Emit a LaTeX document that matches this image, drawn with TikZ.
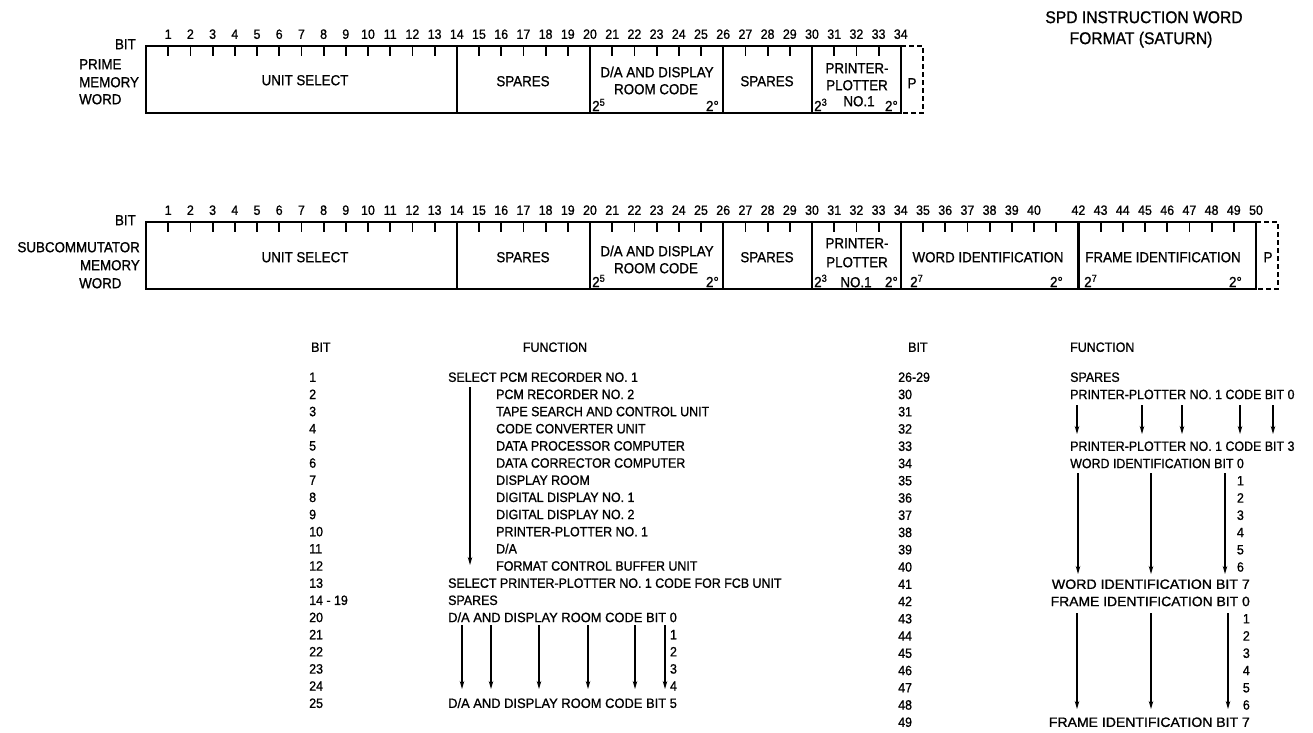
\documentclass[tikz,border=0pt]{standalone}
\usepackage{fontspec}
\setmainfont{Liberation Sans}[FakeStretch=0.92,FakeBold=1]
\usetikzlibrary{arrows.meta}
\begin{document}
\begin{tikzpicture}[x=1pt,y=-1pt,
  t/.style={inner sep=0pt, text height=9.7pt, text depth=0pt, font=\fontsize{13.5}{15}\selectfont},
  bt/.style={inner sep=0pt, text height=10.4pt, text depth=0pt, font=\fontsize{14.5}{16}\selectfont},
  tt/.style={inner sep=0pt, text height=12.2pt, text depth=0pt, font=\fontsize{17}{19}\selectfont},
  sx/.style={inner sep=0pt, font=\fontsize{14.5}{16}\selectfont},
  fieldbox/.style={line width=2.2pt},
  tick/.style={line width=1.8pt},
  pbox/.style={line width=2.2pt, dash pattern=on 5pt off 3pt},
  arr/.style={-{Stealth[length=8pt,width=4.5pt]}, line width=1.1pt},
]
\useasboundingbox (0,0) rectangle (1313,732);

% ---------------- title
\node[tt] (title1) at (1144,17) {SPD INSTRUCTION WORD};
\node[tt] (title2) at (1141,38) {FORMAT (SATURN)};

% ---------------- row 1 : prime memory word
\node[bt, anchor=east] (bitA) at (136,44) {BIT};
\node[bt, anchor=west] (primeA) at (79,64) {PRIME};
\node[bt, anchor=west] (memA) at (79,82) {MEMORY};
\node[bt, anchor=west] (wordA) at (79,99) {WORD};

\draw[fieldbox] (146,46) rectangle (901,113);
\foreach \k in {14,20,26,30}
  \draw[fieldbox] ({146+22.2*\k},46) -- ({146+22.2*\k},113);
\foreach \k in {1,...,13,15,16,17,18,19,21,22,23,24,25,27,28,29,31,32,33}
  \draw[tick] ({146+22.2*\k},46) -- ({146+22.2*\k},56);
\foreach \k in {1,...,34}
  \node[t] (pa\k) at ({146+22.2*\k},34) {\k};
\draw[pbox] (901,46) -- (923,46) -- (923,113) -- (901,113);

\node[bt] (usA) at (305,80) {UNIT SELECT};
\node[bt] (spA) at (523,81) {SPARES};
\node[bt] (daA1) at (657,72) {D/A AND DISPLAY};
\node[bt] (daA2) at (656,89) {ROOM CODE};
\node[sx, anchor=base west] (daA5) at (592,111) {2\textsuperscript{5}};
\node[sx, anchor=base east] (daA0) at (719,111) {2°};
\node[bt] (sp2A) at (767,81) {SPARES};
\node[bt] (ppA1) at (857,68) {PRINTER-};
\node[bt] (ppA2) at (857,85) {PLOTTER};
\node[bt] (ppA3) at (859,101) {NO.1};
\node[sx, anchor=base west] (ppA5) at (814,111) {2\textsuperscript{3}};
\node[sx, anchor=base east] (ppA0) at (898,111) {2°};
\node[bt] (pA) at (912,83) {P};

% ---------------- row 2 : subcommutator memory word
\node[bt, anchor=east] (bitB) at (136,220) {BIT};
\node[bt, anchor=east] (subB) at (140,247) {SUBCOMMUTATOR};
\node[bt, anchor=east] (memB) at (140,265) {MEMORY};
\node[bt, anchor=west] (wordB) at (79,283) {WORD};

\draw[fieldbox] (146,222) rectangle (1256,289);
\foreach \k in {14,20,26,30,34,42}
  \draw[fieldbox] ({146+22.2*\k},222) -- ({146+22.2*\k},289);
\foreach \k in {1,...,13,15,16,17,18,19,21,22,23,24,25,27,28,29,31,32,33,35,36,37,38,39,40,41,43,44,45,46,47,48,49}
  \draw[tick] ({146+22.2*\k},222) -- ({146+22.2*\k},232);
\foreach \k in {1,...,40,42,43,44,45,46,47,48,49,50}
  \node[t] (pb\k) at ({146+22.2*\k},210) {\k};
\draw[pbox] (1256,222) -- (1278,222) -- (1278,289) -- (1256,289);

\node[bt] (usB) at (305,257) {UNIT SELECT};
\node[bt] (spB) at (523,257) {SPARES};
\node[bt] (daB1) at (657,251) {D/A AND DISPLAY};
\node[bt] (daB2) at (656,268) {ROOM CODE};
\node[sx, anchor=base west] (daB5) at (592,287) {2\textsuperscript{5}};
\node[sx, anchor=base east] (daB0) at (719,287) {2°};
\node[bt] (sp2B) at (767,257) {SPARES};
\node[bt] (ppB1) at (857,243) {PRINTER-};
\node[bt] (ppB2) at (857,262) {PLOTTER};
\node[bt] (ppB3) at (856,282) {NO.1};
\node[sx, anchor=base west] (ppB5) at (814,287) {2\textsuperscript{3}};
\node[sx, anchor=base east] (ppB0) at (898,287) {2°};
\node[bt] (wiB) at (988,257) {WORD IDENTIFICATION};
\node[sx, anchor=base west] (wiB7) at (910,287) {2\textsuperscript{7}};
\node[sx, anchor=base east] (wiB0) at (1063,287) {2°};
\node[bt] (fiB) at (1163,257) {FRAME IDENTIFICATION};
\node[sx, anchor=base west] (fiB7) at (1084,287) {2\textsuperscript{7}};
\node[sx, anchor=base east] (fiB0) at (1242,287) {2°};
\node[bt] (pB) at (1268,257) {P};

% ---------------- left table
\node[t, anchor=west] (lbith) at (311,347) {BIT};
\node[t] (lfunh) at (555,347) {FUNCTION};
\foreach \b [count=\i from 0] in {1,2,3,4,5,6,7,8,9,10,11,12,13,14 - 19,20,21,22,23,24,25}
  \node[t, anchor=west] (lb\i) at (309,{377+17.16*\i}) {\b};

\node[t, anchor=west] (lf0) at (448,377) {SELECT PCM RECORDER NO. 1};
\foreach \f [count=\i from 1] in {PCM RECORDER NO. 2,TAPE SEARCH AND CONTROL UNIT,CODE CONVERTER UNIT,DATA PROCESSOR COMPUTER,DATA CORRECTOR COMPUTER,DISPLAY ROOM,DIGITAL DISPLAY NO. 1,DIGITAL DISPLAY NO. 2,PRINTER-PLOTTER NO. 1,D/A,FORMAT CONTROL BUFFER UNIT}
  \node[t, anchor=west] (lf\i) at (496,{377+17.16*\i}) {\f};
\node[t, anchor=west] (lf12) at (448,{377+17.16*12}) {SELECT PRINTER-PLOTTER NO. 1 CODE FOR FCB UNIT};
\node[t, anchor=west] (lf13) at (448,{377+17.16*13}) {SPARES};
\node[t, anchor=west] (lf14) at (448,{377+17.16*14}) {\scalebox{1.04}[1]{D/A AND DISPLAY ROOM CODE BIT 0}};
\foreach \d in {1,2,3,4}
  \node[t, anchor=east] (lfd\d) at ([yshift={-17.16*\d}]lf14.east) {\d};
\node[t, anchor=west] (lf19) at (448,{377+17.16*19}) {\scalebox{1.04}[1]{D/A AND DISPLAY ROOM CODE BIT 5}};

\coordinate (las) at (470,387);
\coordinate (lae) at (470,565);
\draw[arr] (las) -- (lae);
\foreach \x [count=\i] in {462,491,539,588,635,665} {
  \coordinate (das\i) at (\x,625);
  \coordinate (dae\i) at (\x,689);
  \draw[arr] (das\i) -- (dae\i);
}

% ---------------- right table
\node[t, anchor=west] (rbith) at (908,347) {BIT};
\node[t, anchor=west] (rfunh) at (1070,347) {FUNCTION};
\foreach \b [count=\j from 0] in {26-29,30,31,32,33,34,35,36,37,38,39,40,41,42,43,44,45,46,47,48,49}
  \node[t, anchor=west] (rb\j) at (898,{377+17.25*\j}) {\b};

\node[t, anchor=west] (rf0) at (1070,377) {SPARES};
\node[t, anchor=west] (rf1) at (1070,{377+17.25*1}) {PRINTER-PLOTTER NO. 1 CODE BIT 0};
\node[t, anchor=west] (rf4) at (1070,{377+17.25*4}) {PRINTER-PLOTTER NO. 1 CODE BIT 3};
\node[t, anchor=west] (rf5) at (1070,{377+17.25*5}) {WORD IDENTIFICATION BIT 0};
\foreach \d in {1,...,6}
  \node[t, anchor=east] (rwd\d) at ([yshift={-17.25*\d}]rf5.east) {\d};
\node[t, anchor=east] (rf12) at (1250,{377+17.25*12}) {\scalebox{1.14}[1]{WORD IDENTIFICATION BIT 7}};
\node[t, anchor=east] (rf13) at (1250,{377+17.25*13}) {\scalebox{1.12}[1]{FRAME IDENTIFICATION BIT 0}};
\foreach \d in {1,...,6}
  \node[t, anchor=east] (rfd\d) at ([yshift={-17.25*\d}]rf13.east) {\d};
\node[t, anchor=east] (rf20) at (1250,{377+17.25*20}) {\scalebox{1.13}[1]{FRAME IDENTIFICATION BIT 7}};

\foreach \x [count=\i] in {1077,1142,1182,1240,1273} {
  \coordinate (pas\i) at (\x,405);
  \coordinate (pae\i) at (\x,434);
  \draw[arr] (pas\i) -- (pae\i);
}
\foreach \x [count=\i] in {1078,1151,1225} {
  \coordinate (was\i) at (\x,473);
  \coordinate (wae\i) at (\x,574);
  \draw[arr] (was\i) -- (wae\i);
}
\foreach \x [count=\i] in {1077,1151,1228} {
  \coordinate (fas\i) at (\x,613);
  \coordinate (fae\i) at (\x,709);
  \draw[arr] (fas\i) -- (fae\i);
}
\end{tikzpicture}
\end{document}
